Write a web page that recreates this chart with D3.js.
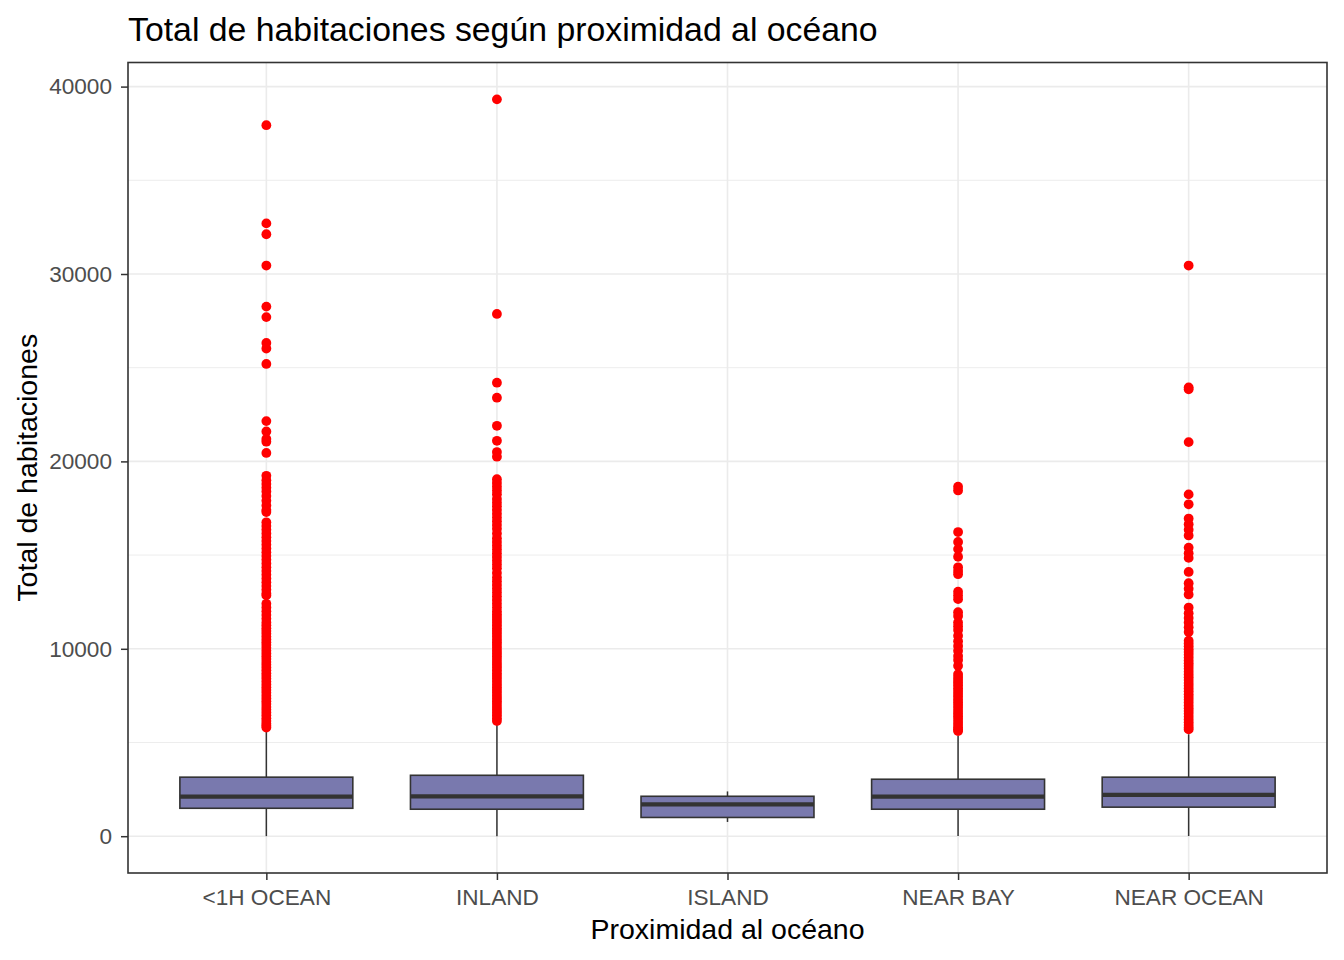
<!DOCTYPE html>
<html>
<head>
<meta charset="utf-8">
<script src="https://cdn.jsdelivr.net/npm/d3@7"></script>
<style>
  body { margin: 0; background: #ffffff; }
  svg text { font-family: "Liberation Sans", Arial, sans-serif; }
</style>
</head>
<body>
<div id="chart"></div>
<script>
    // categories and box statistics
    var categories = ["<1H OCEAN", "INLAND", "ISLAND", "NEAR BAY", "NEAR OCEAN"];
    var q1 = [1490, 1440, 1000, 1440, 1550];
    var median = [2110, 2120, 1700, 2110, 2200];
    var q3 = [3150, 3250, 2130, 3040, 3150];
    var whiskerLow = [2, 2, 760, 8, 8];
    var whiskerHigh = [5620, 5940, 2390, 5350, 5440];

    // outliers per category
    var outliers1h = [37940, 32700, 32120, 30450, 28260, 27700, 26320, 26020, 25200,
      22150, 21600, 21200, 21050, 20450,
      19230, 19000, 18800, 18600, 18400, 18150, 17900, 17650, 17400, 17300,
      16750, 16550, 16350, 16150, 15950, 15750, 15550, 15350, 15150, 14950, 14750,
      14550, 14350, 14150, 13950, 13750, 13550, 13350, 13150, 12950, 12850,
      12400, 12200, 12000, 11800, 11600, 11400, 11250, 11100, 10950, 10800, 10650,
      10500, 10350, 10200, 10050, 9900, 9750, 9600, 9450, 9300, 9150, 9000, 8850,
      8700, 8550, 8400, 8250, 8100, 7950, 7800, 7650, 7500, 7350, 7200, 7050, 6900,
      6750, 6600, 6450, 6300, 6150, 6000, 5900, 5800];
    var outliersInland = [39320, 27870, 24200, 23400, 21900, 21100, 20500, 20250,
      19050, 18850, 18650, 18450, 18250, 18000, 17800, 17600, 17400, 17200, 17000,
      16800, 16600, 16400, 16150, 15900, 15700, 15500, 15300, 15100, 14900, 14700,
      14500, 14300, 14050, 13800, 13600, 13400, 13200, 13000, 12800, 12600, 12400,
      12200, 12000, 11850, 11700, 11550, 11400, 11250, 11100, 10950, 10800, 10650,
      10500, 10350, 10200, 10050, 9900, 9750, 9600, 9450, 9300, 9150, 9000, 8850,
      8700, 8550, 8400, 8250, 8100, 7950, 7800, 7650, 7500, 7350, 7200, 7050, 6900,
      6750, 6600, 6450, 6300, 6150];
    var outliersIsland = [];
    var outliersNearBay = [18650, 18450, 16230, 15700, 15320, 14910, 14350, 14150,
      13980, 13050, 12850, 12650, 11950, 11750, 11400, 11200, 11000, 10700, 10400,
      10150, 9900, 9620, 9400, 9100,
      8650, 8500, 8350, 8200, 8050, 7900, 7750, 7600, 7450, 7300, 7150, 7000, 6850,
      6700, 6550, 6400, 6250, 6100, 5950, 5800, 5700, 5610];
    var outliersNearOcean = [30450, 23950, 23850, 21030, 18240, 17710, 16950, 16650,
      16350, 16050, 15400, 15100, 14850, 14100, 13500, 13200, 12900, 12200, 11900,
      11650, 11400, 11150, 10900,
      10430, 10280, 10130, 9980, 9830, 9680, 9530, 9380, 9230, 9080, 8930, 8780,
      8630, 8480, 8330, 8180, 8030, 7880, 7730, 7580, 7430, 7280, 7130, 6980, 6830,
      6680, 6530, 6380, 6230, 6080, 5930, 5800, 5700];
    var outliers = [outliers1h, outliersInland, outliersIsland, outliersNearBay, outliersNearOcean];

    var yTicks = [0, 10000, 20000, 30000, 40000];
    var yMinorTicks = [5000, 15000, 25000, 35000];

    // set the dimensions and margins of the graph
    var W = 1344, H = 960;
    var margin = { top: 62.5, right: 17, bottom: 87, left: 128 },
      width = W - margin.left - margin.right,
      height = H - margin.top - margin.bottom;

    var svg = d3.select("#chart")
      .append("svg")
      .attr("width", W)
      .attr("height", H);

    var g = svg.append("g")
      .attr("transform", "translate(" + margin.left + "," + margin.top + ")");

    // scales (ggplot-like expansion)
    var x = d3.scalePoint()
      .domain(categories)
      .range([0, width])
      .padding(0.6);
    var step = x.step();
    var boxW = step * 0.75;

    var allVals = whiskerLow.concat(whiskerHigh, d3.merge(outliers));
    var lo = d3.min(allVals), hi = d3.max(allVals);
    var pad = (hi - lo) * 0.05;
    var y = d3.scaleLinear()
      .domain([lo - pad, hi + pad])
      .range([height, 0]);

    // grid
    g.selectAll(".minor")
      .data(yMinorTicks)
      .enter()
      .append("line")
      .attr("x1", 0).attr("x2", width)
      .attr("y1", function (d) { return y(d); })
      .attr("y2", function (d) { return y(d); })
      .attr("stroke", "#ebebeb")
      .attr("stroke-width", 0.9);
    g.selectAll(".major")
      .data(yTicks)
      .enter()
      .append("line")
      .attr("x1", 0).attr("x2", width)
      .attr("y1", function (d) { return y(d); })
      .attr("y2", function (d) { return y(d); })
      .attr("stroke", "#ebebeb")
      .attr("stroke-width", 1.6);
    g.selectAll(".vgrid")
      .data(categories)
      .enter()
      .append("line")
      .attr("x1", function (d) { return x(d); })
      .attr("x2", function (d) { return x(d); })
      .attr("y1", 0).attr("y2", height)
      .attr("stroke", "#ebebeb")
      .attr("stroke-width", 1.6);

    // box data
    var boxes = categories.map(function (c, i) {
      return { cat: c, q1: q1[i], med: median[i], q3: q3[i], lo: whiskerLow[i], hi: whiskerHigh[i] };
    });

    // whiskers
    g.selectAll(".whiskerTop")
      .data(boxes)
      .enter()
      .append("line")
      .attr("x1", function (d) { return x(d.cat); })
      .attr("x2", function (d) { return x(d.cat); })
      .attr("y1", function (d) { return y(d.q3); })
      .attr("y2", function (d) { return y(d.hi); })
      .attr("stroke", "#333333")
      .attr("stroke-width", 1.5);
    g.selectAll(".whiskerBottom")
      .data(boxes)
      .enter()
      .append("line")
      .attr("x1", function (d) { return x(d.cat); })
      .attr("x2", function (d) { return x(d.cat); })
      .attr("y1", function (d) { return y(d.q1); })
      .attr("y2", function (d) { return y(d.lo); })
      .attr("stroke", "#333333")
      .attr("stroke-width", 1.5);

    // outliers
    var pts = [];
    categories.forEach(function (c, i) {
      outliers[i].forEach(function (v) { pts.push({ cat: c, value: v }); });
    });
    g.selectAll(".out")
      .data(pts)
      .enter()
      .append("circle")
      .attr("cx", function (d) { return x(d.cat); })
      .attr("cy", function (d) { return y(d.value); })
      .attr("r", 4.9)
      .attr("fill", "#ff0000");

    // boxes
    g.selectAll(".box")
      .data(boxes)
      .enter()
      .append("rect")
      .attr("x", function (d) { return x(d.cat) - boxW / 2; })
      .attr("y", function (d) { return y(d.q3); })
      .attr("width", boxW)
      .attr("height", function (d) { return y(d.q1) - y(d.q3); })
      .attr("fill", "#7979ae")
      .attr("stroke", "#333333")
      .attr("stroke-width", 1.6);
    g.selectAll(".median")
      .data(boxes)
      .enter()
      .append("line")
      .attr("x1", function (d) { return x(d.cat) - boxW / 2; })
      .attr("x2", function (d) { return x(d.cat) + boxW / 2; })
      .attr("y1", function (d) { return y(d.med); })
      .attr("y2", function (d) { return y(d.med); })
      .attr("stroke", "#333333")
      .attr("stroke-width", 4.2);

    // panel border
    g.append("rect")
      .attr("width", width)
      .attr("height", height)
      .attr("fill", "none")
      .attr("stroke", "#333333")
      .attr("stroke-width", 1.6);

    // axes
    var yAxis = g.append("g")
      .call(d3.axisLeft(y).tickValues(yTicks).tickSize(7).tickSizeOuter(0).tickPadding(9).tickFormat(d3.format("d")));
    var xAxis = g.append("g")
      .attr("transform", "translate(0," + height + ")")
      .call(d3.axisBottom(x).tickSize(7).tickSizeOuter(0).tickPadding(8));
    [yAxis, xAxis].forEach(function (a) {
      a.select(".domain").remove();
      a.selectAll(".tick line").attr("stroke", "#333333").attr("stroke-width", 1.5);
      a.selectAll(".tick text")
        .attr("fill", "#4d4d4d")
        .attr("font-size", 22.6)
        .style("font-family", "'Liberation Sans', Arial, sans-serif");
    });
    xAxis.selectAll(".tick text").attr("dy", "0.75em");

    // Title
    svg.append("text")
      .attr("x", margin.left)
      .attr("y", 41)
      .attr("font-size", 33.8)
      .attr("fill", "#000000")
      .text("Total de habitaciones según proximidad al océano");

    // X axis title
    svg.append("text")
      .attr("x", margin.left + width / 2)
      .attr("y", 939)
      .attr("text-anchor", "middle")
      .attr("font-size", 28.5)
      .attr("fill", "#000000")
      .text("Proximidad al océano");

    // Y axis title
    svg.append("text")
      .attr("transform", "translate(37," + (margin.top + height / 2) + ")rotate(-90)")
      .attr("text-anchor", "middle")
      .attr("font-size", 28.5)
      .attr("fill", "#000000")
      .text("Total de habitaciones");
</script>
</body>
</html>
